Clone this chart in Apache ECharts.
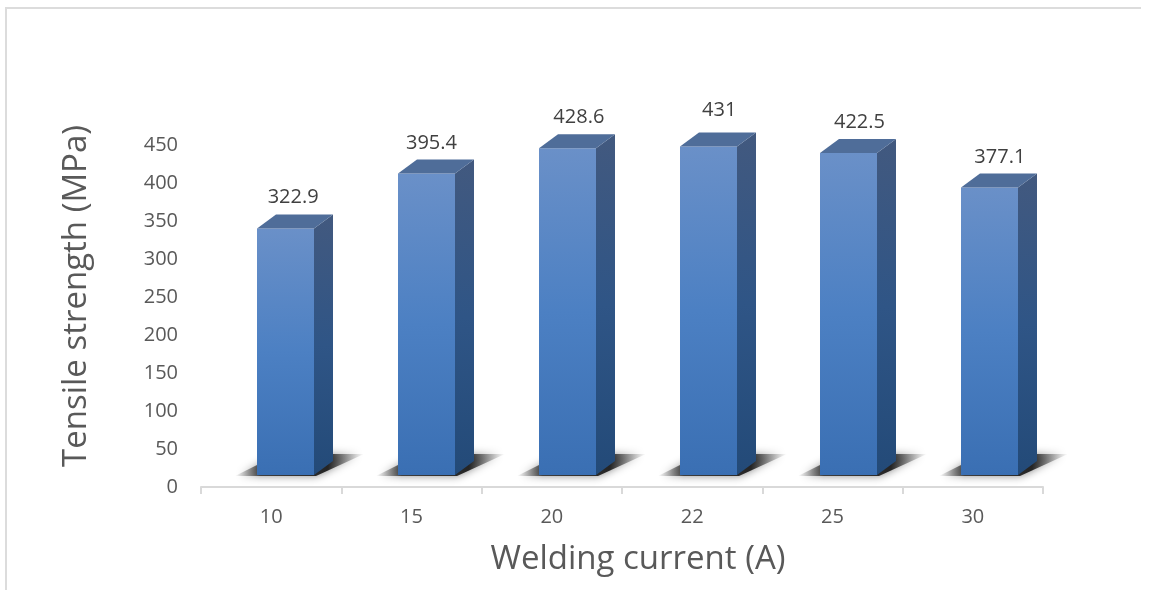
<!DOCTYPE html>
<html>
<head>
<meta charset="utf-8">
<style>
html, body { margin: 0; padding: 0; background: #fff; }
#main { width: 1151px; height: 590px; }
</style>
<script src="https://cdn.jsdelivr.net/npm/echarts@6/dist/echarts.min.js"></script>
</head>
<body>
<div id="main"></div>
<script>
const categories = ['10', '15', '20', '22', '25', '30'];
const strength = [322.9, 395.4, 428.6, 431, 422.5, 377.1];

const FONT = '"Open Sans", "Noto Sans", sans-serif';
const BAR_W = 57, DEPTH_X = 19, DEPTH_Y = 14, LIFT = 12, SHIFT = 14.5;
// the labels were placed by hand in the original, so they do not sit evenly
const labelDx = [22, 20, 27, 27, 27, 27];
const labelDy = [32, 31, 32, 37, 32, 31];

function renderBar(params, api) {
    const i = api.value(0);
    const val = api.value(1);
    const c = api.coord([i, 0]);
    const t = api.coord([i, val]);
    const l = Math.round(c[0] + SHIFT - 0.5 * BAR_W + 0.45 * i);
    const r = l + BAR_W;
    const b = c[1] - LIFT;
    const top = t[1] - LIFT - 1;
    const shadowGrad = new echarts.graphic.LinearGradient(0, 0, 1, 0, [
        { offset: 0, color: 'rgba(70,70,70,0)' },
        { offset: 0.2, color: 'rgba(40,40,40,0.85)' },
        { offset: 0.72, color: 'rgba(30,30,30,0.95)' },
        { offset: 1, color: 'rgba(90,90,90,0)' }
    ]);
    return {
        type: 'group',
        children: [
            {
                type: 'polygon',
                shape: { points: [[l - 22, b + 1], [r + 2, b + 1], [r + 50, b - 21], [l + 22, b - 21]] },
                style: { fill: shadowGrad, shadowBlur: 9, shadowColor: 'rgba(70,70,70,0.7)' }
            },
            {
                type: 'rect',
                shape: { x: l, y: top, width: BAR_W, height: b - top },
                style: {
                    fill: new echarts.graphic.LinearGradient(0, 0, 0, 1, [
                        { offset: 0, color: '#6a90c8' },
                        { offset: 0.5, color: '#4c80c3' },
                        { offset: 1, color: '#3a6fb3' }
                    ])
                }
            },
            {
                type: 'polygon',
                shape: { points: [[r, top], [r + DEPTH_X, top - DEPTH_Y], [r + DEPTH_X, b - DEPTH_Y], [r, b]] },
                style: {
                    fill: new echarts.graphic.LinearGradient(0, 0, 0, 1, [
                        { offset: 0, color: '#42597f' },
                        { offset: 0.5, color: '#2f5586' },
                        { offset: 1, color: '#234a78' }
                    ])
                }
            },
            {
                type: 'polygon',
                shape: { points: [[l, top], [l + DEPTH_X, top - DEPTH_Y], [r + DEPTH_X, top - DEPTH_Y], [r, top]] },
                style: { fill: '#4f6d99' }
            },
            {
                type: 'text',
                style: {
                    text: String(val),
                    x: c[0] + labelDx[i],
                    y: t[1] - LIFT - labelDy[i],
                    fill: '#404040',
                    font: '20px ' + FONT,
                    align: 'center',
                    verticalAlign: 'middle'
                }
            }
        ]
    };
}

const chart = echarts.init(document.getElementById('main'), null, { renderer: 'canvas' });
chart.setOption({
    animation: false,
    backgroundColor: '#fff',
    grid: { left: 201, right: 108, top: 145, bottom: 103, containLabel: false },
    graphic: [
        { type: 'line', silent: true, shape: { x1: 5.5, y1: 8, x2: 1141, y2: 8 }, style: { stroke: '#dcdcdc', lineWidth: 2 } },
        { type: 'line', silent: true, shape: { x1: 6, y1: 7, x2: 6, y2: 590 }, style: { stroke: '#dcdcdc', lineWidth: 2 } }
    ],
    xAxis: {
        type: 'category',
        data: categories,
        name: 'Welding current (A)',
        nameLocation: 'middle',
        nameGap: 56,
        nameTextStyle: { fontSize: 33, color: '#595959', fontFamily: FONT, padding: [0, 0, 0, 32] },
        axisLine: { lineStyle: { color: '#d9d9d9', width: 2 } },
        axisTick: { show: true, alignWithLabel: false, length: 7, lineStyle: { color: '#d9d9d9', width: 2 } },
        axisLabel: { color: '#595959', fontSize: 20, margin: 20, fontFamily: FONT }
    },
    yAxis: {
        type: 'value',
        min: 0,
        max: 450,
        interval: 50,
        name: 'Tensile strength (MPa)',
        nameLocation: 'middle',
        nameGap: 108,
        nameTextStyle: { fontSize: 33, color: '#595959', fontFamily: FONT, padding: [0, 0, 0, 40] },
        axisLine: { show: false },
        axisTick: { show: false },
        splitLine: { show: false },
        axisLabel: { color: '#595959', fontSize: 20, margin: 23, fontFamily: FONT, padding: [4, 0, 0, 0] }
    },
    series: [{
        type: 'custom',
        renderItem: renderBar,
        clip: false,
        encode: { x: 0, y: 1 },
        data: strength.map((v, i) => [i, v])
    }]
});
</script>
</body>
</html>
